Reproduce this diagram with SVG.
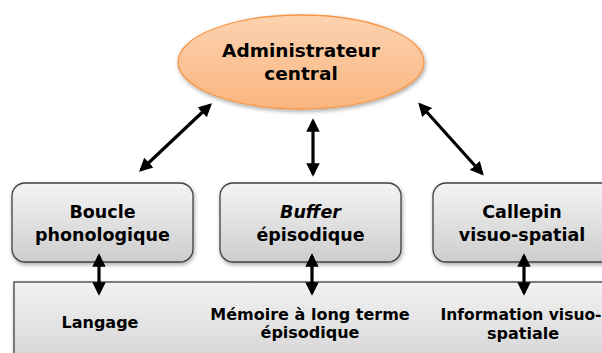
<svg xmlns="http://www.w3.org/2000/svg" width="602" height="353" viewBox="0 0 602 353">
<style>
.t{font-family:"DejaVu Sans","Liberation Sans",sans-serif;font-weight:bold;fill:#000;text-anchor:middle}
.big{font-size:18.5px}
.mid{font-size:17.5px}
.sm{font-size:16px}
.box{fill:url(#gbox);stroke:#404040;stroke-width:1.3}
.con{stroke:#000;stroke-width:3.2;fill:none;marker-start:url(#ah);marker-end:url(#ah)}
</style>
<defs>
<linearGradient id="gbox" x1="0" y1="0" x2="0" y2="1">
<stop offset="0" stop-color="#f4f4f4"/>
<stop offset="1" stop-color="#cdcdcd"/>
</linearGradient>
<linearGradient id="gbot" x1="0" y1="0" x2="0" y2="1">
<stop offset="0" stop-color="#f2f2f2"/>
<stop offset="1" stop-color="#d2d2d2"/>
</linearGradient>
<linearGradient id="gell" x1="0" y1="0" x2="0" y2="1">
<stop offset="0" stop-color="#fcd3b0"/>
<stop offset="1" stop-color="#fab57f"/>
</linearGradient>
<filter id="sh" x="-10%" y="-10%" width="125%" height="130%">
<feGaussianBlur in="SourceAlpha" stdDeviation="2"/>
<feOffset dx="1" dy="2" result="b"/>
<feComponentTransfer><feFuncA type="linear" slope="0.35"/></feComponentTransfer>
<feMerge><feMergeNode/><feMergeNode in="SourceGraphic"/></feMerge>
</filter>
<marker id="ah" viewBox="0 0 10 10" refX="8" refY="5" markerWidth="4.2" markerHeight="4.2" orient="auto-start-reverse" markerUnits="strokeWidth">
<path d="M0,0 L10,5 L0,10 z" fill="#000"/>
</marker>
</defs>
<rect width="602" height="353" fill="#fff"/>
<g id="memoire">
<rect x="14" y="282" width="600" height="90" fill="url(#gbot)" stroke="#404040" stroke-width="1.3" filter="url(#sh)"/>
<text class="t sm" x="100" y="328">Langage</text>
<text class="t sm" x="310" y="320">Mémoire à long terme</text>
<text class="t sm" x="310" y="338">épisodique</text>
<text class="t" style="font-size:15.5px" x="521" y="320">Information visuo-</text>
<text class="t sm" x="523" y="339">spatiale</text>
</g>
<g id="admin">
<ellipse cx="301" cy="62" rx="123" ry="47" fill="url(#gell)" stroke="#f79646" stroke-width="1.3" filter="url(#sh)"/>
<text class="t big" x="301" y="57">Administrateur</text>
<text class="t big" x="301" y="80">central</text>
</g>
<g id="boucle">
<rect class="box" x="12" y="183" width="181" height="79" rx="13" filter="url(#sh)"/>
<text class="t mid" x="102.5" y="218">Boucle</text>
<text class="t mid" x="102.5" y="241">phonologique</text>
</g>
<g id="buffer">
<rect class="box" x="220" y="183" width="181" height="79" rx="13" filter="url(#sh)"/>
<text class="t mid" x="310.5" y="218" font-style="italic">Buffer</text>
<text class="t mid" x="310.5" y="241">épisodique</text>
</g>
<g id="callepin">
<rect class="box" x="433" y="183" width="190" height="79" rx="13" filter="url(#sh)"/>
<text class="t mid" x="522" y="218">Callepin</text>
<text class="t mid" x="522" y="241">visuo-spatial</text>
</g>
<g id="connectors">
<line class="con" x1="141" y1="170" x2="210" y2="105"/>
<line class="con" x1="313" y1="121" x2="313" y2="174"/>
<line class="con" x1="420" y1="104.5" x2="482" y2="173.5"/>
<line class="con" x1="99" y1="256" x2="99" y2="293"/>
<line class="con" x1="312" y1="256" x2="312" y2="293"/>
<line class="con" x1="524" y1="256" x2="524" y2="293"/>
</g>
</svg>
